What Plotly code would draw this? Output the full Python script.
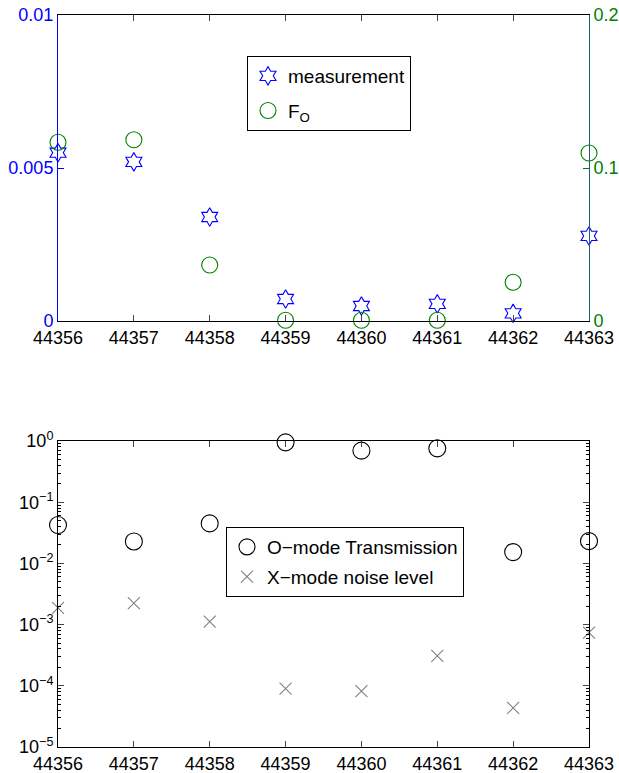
import plotly.graph_objects as go

days = [44356, 44357, 44358, 44359, 44360, 44361, 44362, 44363]
measurement = [0.0055, 0.0052, 0.0034, 0.00072, 0.00049, 0.00056, 0.00025, 0.00278]
f_o = [0.1168, 0.1185, 0.0366, 0.0005, 0.0005, 0.0005, 0.0253, 0.1098]
o_mode = [0.0423, 0.0228, 0.045, 0.95, 0.695, 0.759, 0.0153, 0.0231]
x_noise = [0.00188, 0.00224, 0.00112, 9.0e-5, 8.2e-5, 3.08e-4, 4.35e-5, 7.4e-4]

left_ticks = [0, 0.005, 0.01]
left_labels = ["0", "0.005", "0.01"]
right_ticks = [0, 0.1, 0.2]
right_labels = ["0", "0.1", "0.2"]
log_ticks = [1e-5, 1e-4, 1e-3, 1e-2, 1e-1, 1]
log_labels = ["10<sup>−5</sup>", "10<sup>−4</sup>", "10<sup>−3</sup>",
              "10<sup>−2</sup>", "10<sup>−1</sup>", "10<sup>0</sup>"]

BLUE = "#0000ff"
GREEN = "#008000"
TEAL = "#1a5c78"
GRAY = "#808080"
FONT = "Liberation Sans, Arial, sans-serif"
FS = 18
LFS = 19

W, H = 619, 773
def xd(a, b):
    return [a / W, b / W]
def yd(top, bot):
    return [1 - bot / H, 1 - top / H]

fig = go.Figure()

fig.add_trace(go.Scatter(
    x=days, y=measurement, mode="markers", name="measurement",
    marker=dict(symbol="hexagram-open", size=14, color=BLUE, line=dict(width=1.1, color=BLUE)),
    xaxis="x", yaxis="y", cliponaxis=False, legend="legend", legendgroup="m"))
fig.add_trace(go.Scatter(
    x=days, y=f_o, mode="markers", name="F<sub>O</sub>",
    marker=dict(symbol="circle-open", size=16, color=GREEN, line=dict(width=1.1, color=GREEN)),
    xaxis="x", yaxis="y2", cliponaxis=False, legend="legend", legendgroup="f"))

fig.add_trace(go.Scatter(
    x=days, y=o_mode, mode="markers", name="O−mode Transmission",
    marker=dict(symbol="circle-open", size=17, color="black", line=dict(width=1.1, color="black")),
    xaxis="x2", yaxis="y3", cliponaxis=False, legend="legend2", legendgroup="o"))
fig.add_trace(go.Scatter(
    x=days, y=x_noise, mode="markers", name="X−mode noise level",
    marker=dict(symbol="x-thin-open", size=12, color=GRAY, line=dict(width=1.1, color=GRAY)),
    xaxis="x2", yaxis="y3", cliponaxis=False, legend="legend2", legendgroup="x"))

common_x = dict(range=[44356, 44363], tickmode="array", tickvals=days,
                ticktext=[str(d) for d in days], ticks="inside", ticklen=6,
                showline=True, linecolor="black", linewidth=1, mirror="ticks",
                showgrid=False, zeroline=False, automargin=False,
                tickfont=dict(family=FONT, size=FS, color="black"))

minor_vals = []
for e in [1e-5, 1e-4, 1e-3, 1e-2, 1e-1]:
    for m in range(2, 10):
        minor_vals.append(m * e)

fig.update_layout(
    width=W, height=H, margin=dict(l=0, r=0, t=0, b=0),
    paper_bgcolor="white", plot_bgcolor="white",
    font=dict(family=FONT, size=FS, color="black"),
    xaxis=dict(domain=xd(58, 589), anchor="y", **common_x),
    yaxis=dict(domain=yd(15, 321), range=[0, 0.01], tickmode="array",
               tickvals=left_ticks, ticktext=left_labels, ticks="inside", ticklen=6,
               tickcolor=BLUE, showline=True, linecolor=BLUE, linewidth=1,
               showgrid=False, zeroline=False, automargin=False,
               tickfont=dict(family=FONT, size=FS, color=BLUE)),
    yaxis2=dict(overlaying="y", side="right", anchor="x", range=[0, 0.2],
                tickmode="array", tickvals=right_ticks, ticktext=right_labels,
                ticks="inside", ticklen=6, tickcolor=GREEN, showline=True,
                linecolor=TEAL, linewidth=1, showgrid=False, zeroline=False,
                automargin=False,
                tickfont=dict(family=FONT, size=FS, color=GREEN)),
    xaxis2=dict(domain=xd(58, 589), anchor="y3", **common_x),
    yaxis3=dict(domain=yd(441, 747), type="log", range=[-5, 0], anchor="x2",
                tickmode="array", tickvals=log_ticks, ticktext=log_labels,
                ticks="inside", ticklen=6, showline=True, linecolor="black",
                linewidth=1, mirror="ticks", showgrid=False, zeroline=False,
                automargin=False,
                minor=dict(tickvals=minor_vals, ticks="inside", ticklen=3,
                           tickcolor="black", showgrid=False),
                tickfont=dict(family=FONT, size=FS, color="black")),
    legend=dict(x=247 / W, y=1 - 56 / H, xanchor="left", yanchor="top",
                bordercolor="black", borderwidth=1, bgcolor="white",
                font=dict(family=FONT, size=LFS, color="black"),
                itemwidth=30, tracegroupgap=7),
    legend2=dict(x=226 / W, y=1 - 527 / H, xanchor="left", yanchor="top",
                 bordercolor="black", borderwidth=1, bgcolor="white",
                 font=dict(family=FONT, size=LFS, color="black"),
                 itemwidth=30, tracegroupgap=2),
    showlegend=True,
)

fig.write_html("out.html")
